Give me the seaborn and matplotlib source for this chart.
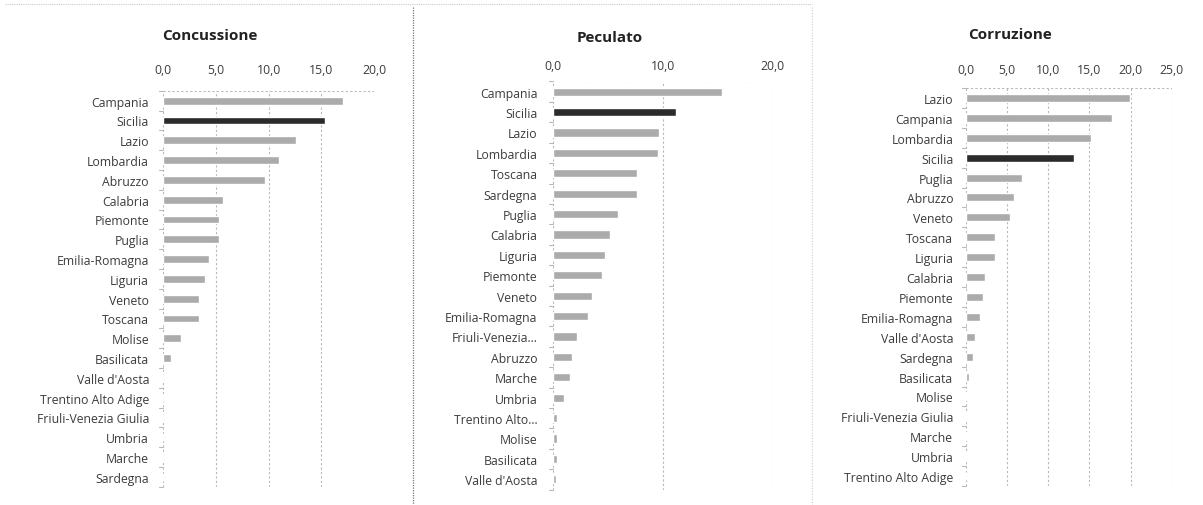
import matplotlib
matplotlib.use("Agg")
import matplotlib.pyplot as plt
from matplotlib.lines import Line2D
from matplotlib.ticker import FixedLocator, FuncFormatter
import pandas as pd
import seaborn as sns

# Concussione
conc_regions = ["Campania", "Sicilia", "Lazio", "Lombardia", "Abruzzo", "Calabria",
                "Piemonte", "Puglia", "Emilia-Romagna", "Liguria", "Veneto", "Toscana",
                "Molise", "Basilicata", "Valle d'Aosta", "Trentino Alto Adige",
                "Friuli-Venezia Giulia", "Umbria", "Marche", "Sardegna"]
conc_values = [17.1, 15.4, 12.6, 11.0, 9.7, 5.7, 5.3, 5.3, 4.4, 4.0, 3.4, 3.4,
               1.7, 0.8, 0.0, 0.0, 0.0, 0.0, 0.0, 0.0]

# Peculato
pec_regions = ["Campania", "Sicilia", "Lazio", "Lombardia", "Toscana", "Sardegna",
               "Puglia", "Calabria", "Liguria", "Piemonte", "Veneto", "Emilia-Romagna",
               "Friuli-Venezia...", "Abruzzo", "Marche", "Umbria", "Trentino Alto...",
               "Molise", "Basilicata", "Valle d'Aosta"]
pec_values = [15.4, 11.2, 9.7, 9.55, 7.7, 7.7, 5.95, 5.2, 4.8, 4.5, 3.6, 3.2,
              2.25, 1.75, 1.6, 1.0, 0.35, 0.35, 0.35, 0.3]

# Corruzione
corr_regions = ["Lazio", "Campania", "Lombardia", "Sicilia", "Puglia", "Abruzzo",
                "Veneto", "Toscana", "Liguria", "Calabria", "Piemonte", "Emilia-Romagna",
                "Valle d'Aosta", "Sardegna", "Basilicata", "Molise",
                "Friuli-Venezia Giulia", "Marche", "Umbria", "Trentino Alto Adige"]
corr_values = [19.9, 17.7, 15.2, 13.1, 6.8, 5.9, 5.4, 3.55, 3.55, 2.35, 2.1, 1.75,
               1.1, 0.9, 0.4, 0.2, 0.15, 0.2, 0.15, 0.0]

titles = ["Concussione", "Peculato", "Corruzione"]
x_ticks = [[0, 5, 10, 15, 20], [0, 10, 20], [0, 5, 10, 15, 20, 25]]
x_limits = [20, 20, 25]

BAR_GREY = "#ababab"
BAR_DARK = "#2b2b2b"
TEXT = "#3c3c3c"
GRID = "#b8b8b8"
HIGHLIGHT = "Sicilia"

sns.set_theme(style="white")
plt.rcParams["font.family"] = ["Open Sans", "DejaVu Sans"]

W, H = 1203, 506
fig = plt.figure(figsize=(W / 100, H / 100), dpi=100)
fig.patch.set_facecolor("white")

# panel boxes in pixels: left, top, right, bottom
boxes = [(163, 91.8, 374, 487.8), (552.7, 82.5, 772.3, 490.5), (965.7, 89, 1171.7, 487)]
title_pos = [(210, 36), (610, 38), (1010, 35)]
tick_pads = [10.5, 6.5, 9.0]
label_pads = [10, 11, 9]

panels = [(conc_regions, conc_values), (pec_regions, pec_values), (corr_regions, corr_values)]

for i, (regions, values) in enumerate(panels):
    l, t, r, b = boxes[i]
    ax = fig.add_axes([l / W, 1 - b / H, (r - l) / W, (b - t) / H])
    df = pd.DataFrame({"regione": regions, "valore": values})
    palette = {reg: (BAR_DARK if reg == HIGHLIGHT else BAR_GREY) for reg in regions}
    sns.barplot(data=df, x="valore", y="regione", hue="regione", palette=palette,
                order=regions, hue_order=regions, legend=False, width=0.4,
                saturation=1, ax=ax, orient="h")
    ax.set_xlim(0, x_limits[i])
    ax.set_ylim(len(regions) - 0.5, -0.5)
    ax.xaxis.set_major_locator(FixedLocator(x_ticks[i]))
    ax.xaxis.set_major_formatter(FuncFormatter(lambda v, p: f"{v:.1f}".replace(".", ",")))
    ax.xaxis.tick_top()
    ax.tick_params(axis="x", length=0, pad=tick_pads[i], labelsize=8.8, labelcolor=TEXT)
    ax.tick_params(axis="y", length=0, pad=label_pads[i], labelsize=8.8, labelcolor=TEXT)
    ax.set_xlabel("")
    ax.set_ylabel("")
    for s in ax.spines.values():
        s.set_visible(False)
    # dashed value gridlines, including the zero line
    for v in x_ticks[i]:
        ax.axvline(v, color=GRID, lw=0.8, ls=(0, (2, 2)), zorder=0)
    ax.axhline(-0.5, color=GRID, lw=0.8, ls=(0, (2, 2)), zorder=0)
    # category separators on the value axis
    for k in range(len(regions) + 1):
        ax.plot([-0.006 * x_limits[i] * 3, 0], [k - 0.5, k - 0.5], color=GRID,
                lw=0.8, clip_on=False, zorder=0)
    tx, ty = title_pos[i]
    fig.text(tx / W, 1 - ty / H, titles[i], ha="center", va="center",
             fontsize=11, fontweight="bold", color="#222222")

# frame lines between panels
fig.add_artist(Line2D([5 / W, 812 / W], [1 - 5 / H, 1 - 5 / H], color="#c8c8c8",
                      lw=0.8, ls=(0, (1, 1))))
fig.add_artist(Line2D([413 / W, 413 / W], [1 - 8 / H, 1 - 506 / H], color="#777777",
                      lw=0.9, ls=(0, (1, 1))))
fig.add_artist(Line2D([812 / W, 812 / W], [1 - 8 / H, 1 - 506 / H], color="#cccccc",
                      lw=0.8, ls=(0, (1, 1.5))))

fig.savefig("out.png", dpi=100, facecolor="white")
